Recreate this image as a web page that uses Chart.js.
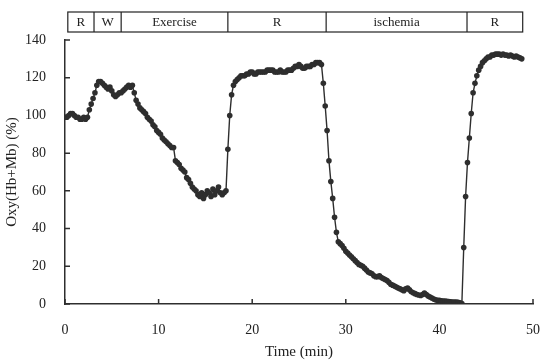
<!DOCTYPE html>
<html>
<head>
<meta charset="utf-8">
<title>Oxy(Hb+Mb)</title>
<script src="https://cdn.jsdelivr.net/npm/chart.js@4.4.1/dist/chart.umd.min.js"></script>
<style>
  html, body { margin: 0; padding: 0; background: #fff; }
  #wrap { width: 540px; height: 360px; }
</style>
</head>
<body>
<div id="wrap"><canvas id="chart" width="540" height="360"></canvas></div>
<script>
// sampling interval of the recording (min)
const SAMPLE_MIN = 0.2;

// Oxy(Hb+Mb) (%), one value per sample
const oxyValues = [
  99, 99, 100, 101, 101,   100, 99, 99, 98, 98,   99, 98, 99, 103, 106,
  109, 112, 116, 118, 118,   117, 116, 115, 114, 115,   113, 111, 110, 111, 112,
  112, 113, 114, 115, 116,   115, 116, 112, 108, 106,   104, 103, 102, 101, 99,
  98, 97, 95, 94, 92,   91, 90, 88, 87, 86,   85, 84, 83, 83, 76,
  75, 74, 72, 71, 70,   67, 66, 64, 62, 61,   60, 58, 57, 59, 56,
  58, 60, 59, 57, 61,   58, 60, 62, 59, 58,   59, 60, 82, 100, 111,
  116, 118, 119, 120, 121,   121, 121, 122, 122, 123,   123, 122, 122, 123, 123,
  123, 123, 123, 124, 124,   124, 124, 123, 123, 123,   124, 123, 123, 123, 124,
  124, 124, 125, 126, 126,   127, 126, 125, 125, 126,   126, 126, 127, 127, 128,
  128, 128, 127, 117, 105,   92, 76, 65, 56, 46,   38, 33, 32, 31, 29.5,
  28, 27, 26, 25, 24,   23, 22, 21, 20.5, 20,   19, 18, 17, 16.5, 16,
  15, 14.5, 14.5, 15, 14,   13.5, 13, 12.5, 11.5, 10.5,   10, 9.5, 9, 8.5, 8,
  7.5, 7, 8, 8.5, 7.5,   6.5, 6, 5.5, 5, 4.8,   4.5, 5, 5.8, 5, 4.2,
  3.7, 3.2, 2.6, 2.2, 2,   1.9, 1.7, 1.6, 1.5, 1.4,   1.3, 1.2, 1.1, 1, 1,
  0.9, 0.6, 0.3, 30, 57,   75, 88, 101, 112, 117,   121, 124, 126, 128, 129,
  130, 131, 131, 132, 132,   132.5, 132.5, 132.5, 132, 132.5,   132, 132, 131.5, 132, 131.5,
  131, 131.5, 131, 130.5, 130
];

// protocol phases shown in the top band (minutes)
const phaseLabels = ['R', 'W', 'Exercise', 'R', 'ischemia', 'R'];
const phaseBounds = [0.3, 3.1, 6.0, 17.4, 27.9, 42.95, 48.9];

const xTicks = [0, 10, 20, 30, 40, 50];
const yTicks = [0, 20, 40, 60, 80, 100, 120, 140];

const INK = '#2e2e2e';
const SERIF = "'Liberation Serif', 'Times New Roman', serif";

const points = oxyValues.map((v, i) => ({ x: +(i * SAMPLE_MIN).toFixed(1), y: v }));

// inward tick marks + protocol band
const paperPlugin = {
  id: 'paper',
  afterDraw(chart) {
    const { ctx, chartArea, scales: { x, y } } = chart;
    ctx.save();
    ctx.strokeStyle = INK;
    ctx.lineWidth = 1.5;
    ctx.beginPath();
    xTicks.forEach(t => {
      const px = x.getPixelForValue(t);
      ctx.moveTo(px, chartArea.bottom);
      ctx.lineTo(px, chartArea.bottom - 5);
    });
    yTicks.forEach(t => {
      const py = y.getPixelForValue(t);
      ctx.moveTo(chartArea.left, py);
      ctx.lineTo(chartArea.left + 5, py);
    });
    ctx.stroke();

    // phase band
    const top = chartArea.top - 28;
    const bot = chartArea.top - 8;
    ctx.lineWidth = 1.2;
    ctx.strokeStyle = '#222';
    const x0 = x.getPixelForValue(phaseBounds[0]);
    const x1 = x.getPixelForValue(phaseBounds[phaseBounds.length - 1]);
    ctx.strokeRect(x0, top, x1 - x0, bot - top);
    ctx.beginPath();
    for (let i = 1; i < phaseBounds.length - 1; i++) {
      const px = x.getPixelForValue(phaseBounds[i]);
      ctx.moveTo(px, top);
      ctx.lineTo(px, bot);
    }
    ctx.stroke();
    ctx.fillStyle = '#222';
    ctx.font = '13px ' + SERIF;
    ctx.textAlign = 'center';
    ctx.textBaseline = 'middle';
    phaseLabels.forEach((lab, i) => {
      const a = x.getPixelForValue(phaseBounds[i]);
      const b = x.getPixelForValue(phaseBounds[i + 1]);
      ctx.fillText(lab, (a + b) / 2, (top + bot) / 2 + 1);
    });
    ctx.restore();
  }
};

new Chart(document.getElementById('chart'), {
  type: 'line',
  data: {
    datasets: [{
      data: points,
      borderColor: INK,
      borderWidth: 1.4,
      backgroundColor: INK,
      pointRadius: 2.8,
      pointBorderWidth: 0,
      pointBackgroundColor: INK,
      tension: 0
    }]
  },
  options: {
    responsive: false,
    animation: false,
    devicePixelRatio: 1,
    layout: { padding: { top: 40, right: 7, left: 0, bottom: 0 } },
    plugins: { legend: { display: false }, tooltip: { enabled: false } },
    scales: {
      x: {
        type: 'linear',
        min: 0,
        max: 50,
        afterFit: s => { s.height = 56; s.paddingLeft = 0; s.paddingRight = 7; },
        afterBuildTicks: s => { s.ticks = xTicks.map(v => ({ value: v })); },
        grid: { display: false },
        border: { display: true, color: INK, width: 1.5 },
        ticks: { color: '#222', font: { family: SERIF, size: 14 }, padding: 10, maxRotation: 0 },
        title: {
          display: true, text: 'Time (min)', color: '#222',
          font: { family: SERIF, size: 15, lineHeight: 1 }, padding: { top: 0, bottom: 0 }
        }
      },
      y: {
        min: 0,
        max: 140,
        afterFit: s => { s.width = 65; },
        afterBuildTicks: s => { s.ticks = yTicks.map(v => ({ value: v })); },
        grid: { display: false },
        border: { display: true, color: INK, width: 1.5 },
        ticks: { color: '#222', font: { family: SERIF, size: 14 }, padding: 11 },
        title: {
          display: true, text: 'Oxy(Hb+Mb) (%)', color: '#222',
          font: { family: SERIF, size: 15, lineHeight: 1 }, padding: { top: 5, bottom: 0 }
        }
      }
    }
  },
  plugins: [paperPlugin]
});
</script>
</body>
</html>
